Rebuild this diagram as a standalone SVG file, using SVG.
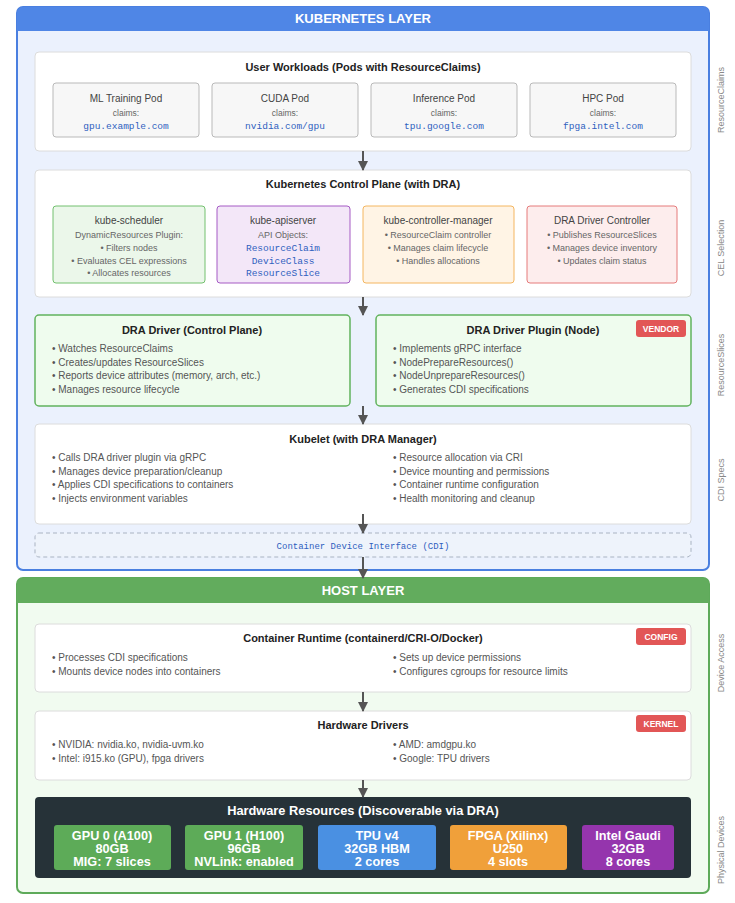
<svg xmlns="http://www.w3.org/2000/svg" width="735" height="903" viewBox="0 0 735 903">
<defs>
<marker id="ah" viewBox="0 0 10 10" refX="9" refY="5" markerWidth="5" markerHeight="5" markerUnits="strokeWidth" orient="auto">
<path d="M0,0 L10,5 L0,10 z" fill="#555"/>
</marker>
<style>
text{font-family:"Liberation Sans",Arial,sans-serif}
.lt{font-size:13px;font-weight:bold;fill:#fff;text-anchor:middle}
.ttl{font-size:11px;font-weight:bold;fill:#222;text-anchor:middle}
.box{fill:#fff;stroke:#dcdcdc;stroke-width:1}
.pod{fill:#f7f7f7;stroke:#b9b9b9;stroke-width:1}
.nm{font-size:10px;fill:#444;text-anchor:middle}
.sm{font-size:8.5px;fill:#666;text-anchor:middle}
.mono{font-family:"Liberation Mono","DejaVu Sans Mono",monospace;font-size:9.5px;fill:#2f5fbf;text-anchor:middle}
.bl{font-size:10px;fill:#555}
.cs{font-size:9px;fill:#666;text-anchor:middle}
.badge{fill:#e25656}
.bt{font-size:8.5px;font-weight:bold;fill:#fff;text-anchor:middle}
.side{font-size:9px;fill:#888;text-anchor:middle}
.hw{font-size:12.7px;font-weight:bold;fill:#fff;text-anchor:middle}
.conn{stroke:#555;stroke-width:2;fill:none;marker-end:url(#ah)}
</style>
</defs>

<g id="kubernetes-layer">
<rect x="17" y="7" width="692" height="563" rx="6" fill="#ebf1fd" stroke="#4a7fe0" stroke-width="2"/>
<path d="M23,7 H703 A6,6 0 0 1 709,13 V31 H17 V13 A6,6 0 0 1 23,7 z" fill="#4f86e6"/>
<text class="lt" x="363" y="23">KUBERNETES LAYER</text>
</g>

<g id="host-layer">
<rect x="17" y="578" width="692" height="315" rx="6" fill="#f1fbf0" stroke="#5eaa5a" stroke-width="2"/>
<path d="M23,578 H703 A6,6 0 0 1 709,584 V603 H17 V584 A6,6 0 0 1 23,578 z" fill="#62ac5d"/>
<text class="lt" x="363" y="595">HOST LAYER</text>
</g>

<g id="user-workloads">
<rect class="box" x="35" y="52" width="656" height="99" rx="4"/>
<text class="ttl" x="363" y="71">User Workloads (Pods with ResourceClaims)</text>
<g id="pod-ml">
<rect class="pod" x="53" y="83" width="146" height="54" rx="3"/>
<text class="nm" x="126" y="102">ML Training Pod</text>
<text class="sm" x="126" y="116">claims:</text>
<text class="mono" x="126" y="129">gpu.example.com</text>
</g>
<g id="pod-cuda">
<rect class="pod" x="212" y="83" width="146" height="54" rx="3"/>
<text class="nm" x="285" y="102">CUDA Pod</text>
<text class="sm" x="285" y="116">claims:</text>
<text class="mono" x="285" y="129">nvidia.com/gpu</text>
</g>
<g id="pod-inference">
<rect class="pod" x="371" y="83" width="146" height="54" rx="3"/>
<text class="nm" x="444" y="102">Inference Pod</text>
<text class="sm" x="444" y="116">claims:</text>
<text class="mono" x="444" y="129">tpu.google.com</text>
</g>
<g id="pod-hpc">
<rect class="pod" x="530" y="83" width="146" height="54" rx="3"/>
<text class="nm" x="603" y="102">HPC Pod</text>
<text class="sm" x="603" y="116">claims:</text>
<text class="mono" x="603" y="129">fpga.intel.com</text>
</g>
</g>

<g id="control-plane">
<rect class="box" x="35" y="170" width="656" height="127" rx="4"/>
<text class="ttl" x="363" y="188">Kubernetes Control Plane (with DRA)</text>
<g id="kube-scheduler">
<rect x="53" y="206" width="152" height="77" rx="3" fill="#ebf7ea" stroke="#72c06e"/>
<text class="nm" x="129" y="224">kube-scheduler</text>
<text class="cs" x="129" y="238">DynamicResources Plugin:</text>
<text class="cs" x="129" y="251">• Filters nodes</text>
<text class="cs" x="129" y="264">• Evaluates CEL expressions</text>
<text class="cs" x="129" y="276">• Allocates resources</text>
</g>
<g id="kube-apiserver">
<rect x="217" y="206" width="133" height="77" rx="3" fill="#f3e7f8" stroke="#a55bc4"/>
<text class="nm" x="283" y="224">kube-apiserver</text>
<text class="cs" x="283" y="238">API Objects:</text>
<text class="mono" x="283" y="251">ResourceClaim</text>
<text class="mono" x="283" y="264">DeviceClass</text>
<text class="mono" x="283" y="276">ResourceSlice</text>
</g>
<g id="kube-controller-manager">
<rect x="363" y="206" width="151" height="77" rx="3" fill="#fff4e5" stroke="#f4b660"/>
<text class="nm" x="438" y="224">kube-controller-manager</text>
<text class="cs" x="438" y="238">• ResourceClaim controller</text>
<text class="cs" x="438" y="251">• Manages claim lifecycle</text>
<text class="cs" x="438" y="264">• Handles allocations</text>
</g>
<g id="dra-driver-controller">
<rect x="527" y="206" width="150" height="77" rx="3" fill="#fdeded" stroke="#e57b7b"/>
<text class="nm" x="602" y="224">DRA Driver Controller</text>
<text class="cs" x="602" y="238">• Publishes ResourceSlices</text>
<text class="cs" x="602" y="251">• Manages device inventory</text>
<text class="cs" x="602" y="264">• Updates claim status</text>
</g>
</g>

<g id="dra-driver-control-plane">
<rect x="35" y="315" width="315" height="91" rx="4" fill="#effcee" stroke="#62b25e" stroke-width="1.5"/>
<text class="ttl" x="192" y="334">DRA Driver (Control Plane)</text>
<text class="bl" x="52" y="352">• Watches ResourceClaims</text>
<text class="bl" x="52" y="366">• Creates/updates ResourceSlices</text>
<text class="bl" x="52" y="379">• Reports device attributes (memory, arch, etc.)</text>
<text class="bl" x="52" y="393">• Manages resource lifecycle</text>
</g>

<g id="dra-driver-plugin-node">
<rect x="376" y="315" width="315" height="91" rx="4" fill="#effcee" stroke="#62b25e" stroke-width="1.5"/>
<text class="ttl" x="533" y="334">DRA Driver Plugin (Node)</text>
<rect class="badge" x="636" y="320" width="50" height="17" rx="3"/>
<text class="bt" x="661" y="332">VENDOR</text>
<text class="bl" x="393" y="352">• Implements gRPC interface</text>
<text class="bl" x="393" y="366">• NodePrepareResources()</text>
<text class="bl" x="393" y="379">• NodeUnprepareResources()</text>
<text class="bl" x="393" y="393">• Generates CDI specifications</text>
</g>

<g id="kubelet">
<rect class="box" x="35" y="424" width="656" height="100" rx="4"/>
<text class="ttl" x="363" y="443">Kubelet (with DRA Manager)</text>
<text class="bl" x="52" y="461">• Calls DRA driver plugin via gRPC</text>
<text class="bl" x="52" y="475">• Manages device preparation/cleanup</text>
<text class="bl" x="52" y="488">• Applies CDI specifications to containers</text>
<text class="bl" x="52" y="502">• Injects environment variables</text>
<text class="bl" x="393" y="461">• Resource allocation via CRI</text>
<text class="bl" x="393" y="475">• Device mounting and permissions</text>
<text class="bl" x="393" y="488">• Container runtime configuration</text>
<text class="bl" x="393" y="502">• Health monitoring and cleanup</text>
</g>

<g id="cdi">
<rect x="35" y="533" width="656" height="24" rx="4" fill="#eef3fb" stroke="#a9b3c2" stroke-dasharray="4 3"/>
<text class="mono" x="363" y="549" style="font-size:9px">Container Device Interface (CDI)</text>
</g>

<g id="container-runtime">
<rect class="box" x="35" y="624" width="656" height="68" rx="4"/>
<text class="ttl" x="363" y="642">Container Runtime (containerd/CRI-O/Docker)</text>
<rect class="badge" x="636" y="628" width="50" height="17" rx="3"/>
<text class="bt" x="661" y="640">CONFIG</text>
<text class="bl" x="52" y="661">• Processes CDI specifications</text>
<text class="bl" x="52" y="675">• Mounts device nodes into containers</text>
<text class="bl" x="393" y="661">• Sets up device permissions</text>
<text class="bl" x="393" y="675">• Configures cgroups for resource limits</text>
</g>

<g id="hardware-drivers">
<rect class="box" x="35" y="711" width="656" height="69" rx="4"/>
<text class="ttl" x="363" y="729">Hardware Drivers</text>
<rect class="badge" x="636" y="715" width="50" height="17" rx="3"/>
<text class="bt" x="661" y="727">KERNEL</text>
<text class="bl" x="52" y="748">• NVIDIA: nvidia.ko, nvidia-uvm.ko</text>
<text class="bl" x="52" y="762">• Intel: i915.ko (GPU), fpga drivers</text>
<text class="bl" x="393" y="748">• AMD: amdgpu.ko</text>
<text class="bl" x="393" y="762">• Google: TPU drivers</text>
</g>

<g id="hardware-resources">
<rect x="35" y="797" width="656" height="81" rx="4" fill="#263238"/>
<text x="363" y="815" style="font-size:12.8px;font-weight:bold;fill:#fff;text-anchor:middle">Hardware Resources (Discoverable via DRA)</text>
<g id="gpu0">
<rect x="54" y="825" width="117" height="45" rx="3" fill="#5dab58"/>
<text class="hw" x="112" y="840">GPU 0 (A100)</text>
<text class="hw" x="112" y="853">80GB</text>
<text class="hw" x="112" y="866">MIG: 7 slices</text>
</g>
<g id="gpu1">
<rect x="185" y="825" width="118" height="45" rx="3" fill="#5dab58"/>
<text class="hw" x="244" y="840">GPU 1 (H100)</text>
<text class="hw" x="244" y="853">96GB</text>
<text class="hw" x="244" y="866">NVLink: enabled</text>
</g>
<g id="tpu">
<rect x="318" y="825" width="118" height="45" rx="3" fill="#4a90e2"/>
<text class="hw" x="377" y="840">TPU v4</text>
<text class="hw" x="377" y="853">32GB HBM</text>
<text class="hw" x="377" y="866">2 cores</text>
</g>
<g id="fpga">
<rect x="450" y="825" width="117" height="45" rx="3" fill="#f0a03a"/>
<text class="hw" x="508" y="840">FPGA (Xilinx)</text>
<text class="hw" x="508" y="853">U250</text>
<text class="hw" x="508" y="866">4 slots</text>
</g>
<g id="gaudi">
<rect x="582" y="825" width="92" height="45" rx="3" fill="#9535ad"/>
<text class="hw" x="628" y="840">Intel Gaudi</text>
<text class="hw" x="628" y="853">32GB</text>
<text class="hw" x="628" y="866">8 cores</text>
</g>
</g>

<g id="side-labels">
<text class="side" transform="translate(724,100) rotate(-90)">ResourceClaims</text>
<text class="side" transform="translate(724,248) rotate(-90)">CEL Selection</text>
<text class="side" transform="translate(724,365) rotate(-90)">ResourceSlices</text>
<text class="side" transform="translate(724,480) rotate(-90)">CDI Specs</text>
<text class="side" transform="translate(724,663) rotate(-90)">Device Access</text>
<text class="side" transform="translate(724,850) rotate(-90)">Physical Devices</text>
</g>

<g id="connectors">
<line class="conn" x1="363" y1="151" x2="363" y2="170"/>
<line class="conn" x1="363" y1="297" x2="363" y2="315"/>
<line class="conn" x1="363" y1="406" x2="363" y2="424"/>
<line class="conn" x1="363" y1="514" x2="363" y2="533"/>
<line class="conn" x1="363" y1="557" x2="363" y2="578"/>
<line class="conn" x1="363" y1="692" x2="363" y2="711"/>
<line class="conn" x1="363" y1="780" x2="363" y2="797"/>
</g>
</svg>
